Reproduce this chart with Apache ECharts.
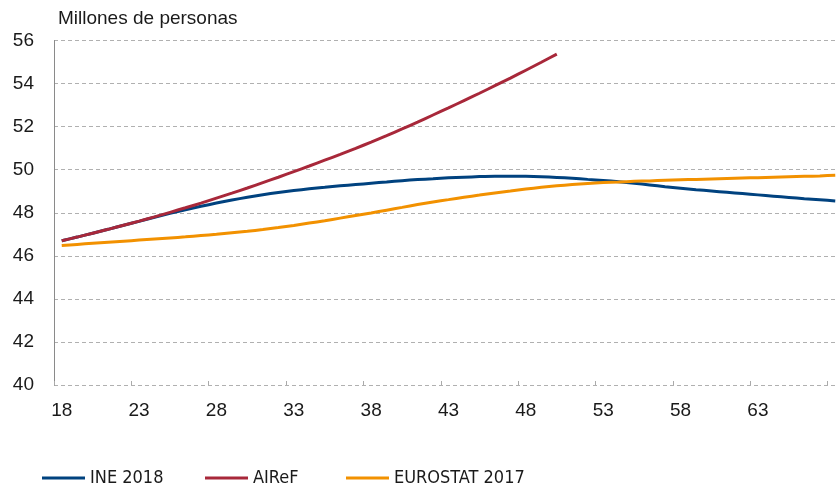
<!DOCTYPE html>
<html>
<head>
<meta charset="utf-8">
<script src="https://cdn.jsdelivr.net/npm/echarts@6/dist/echarts.min.js"></script>
<style>
  html, body { margin: 0; padding: 0; background: #fff; }
  #chart { width: 836px; height: 485px; }
</style>
</head>
<body>
<div id="chart"></div>
<script>
// Years 2018–2068, labelled by their last two digits
const years = [];
for (let y = 18; y <= 68; y++) years.push(String(y));

// Population projections, millions of people
const ine2018 = [
  46.70, 46.87, 47.05, 47.23, 47.42, 47.60, 47.79, 47.97, 48.14, 48.30,
  48.45, 48.59, 48.72, 48.84, 48.94, 49.03, 49.11, 49.18, 49.25, 49.31,
  49.37, 49.43, 49.49, 49.54, 49.58, 49.62, 49.65, 49.68, 49.70, 49.70,
  49.69, 49.67, 49.64, 49.60, 49.55, 49.50, 49.44, 49.37, 49.29, 49.21,
  49.14, 49.07, 49.01, 48.95, 48.89, 48.83, 48.77, 48.71, 48.65, 48.60,
  48.55
];
const airef = [
  46.70, 46.87, 47.05, 47.23, 47.42, 47.61, 47.81, 48.02, 48.23, 48.45,
  48.68, 48.91, 49.15, 49.40, 49.65, 49.91, 50.17, 50.44, 50.71, 50.99,
  51.28, 51.58, 51.89, 52.21, 52.54, 52.87, 53.21, 53.55, 53.90, 54.25,
  54.62, 54.99, 55.37
];
const eurostat2017 = [
  46.48, 46.53, 46.58, 46.63, 46.68, 46.73, 46.78, 46.83, 46.88, 46.94,
  47.00, 47.07, 47.14, 47.22, 47.31, 47.41, 47.52, 47.63, 47.75, 47.87,
  47.99, 48.12, 48.25, 48.38, 48.50, 48.61, 48.72, 48.82, 48.92, 49.01,
  49.10, 49.18, 49.25, 49.31, 49.36, 49.40, 49.43, 49.46, 49.48, 49.51,
  49.53, 49.55, 49.57, 49.59, 49.61, 49.63, 49.65, 49.67, 49.69, 49.71,
  49.74
];

const seriesNames = ['INE 2018', 'AIReF', 'EUROSTAT 2017'];
const seriesColors = ['#00427f', '#a8283a', '#f29100'];
const seriesData = [ine2018, airef, eurostat2017];

const textColor = '#1a1a1a';
const labelFont = '"Liberation Sans", Arial, sans-serif';
const legendFont = '"Liberation Sans Narrow", "DejaVu Sans Condensed", "Liberation Sans", sans-serif';

const legendLeft = [42, 205, 346];

const chart = echarts.init(document.getElementById('chart'), null, { renderer: 'canvas' });

chart.setOption({
  animation: false,
  backgroundColor: '#ffffff',
  title: {
    text: 'Millones de personas',
    left: 58,
    top: 9,
    padding: 0,
    textStyle: {
      fontFamily: labelFont,
      fontSize: 19,
      fontWeight: 'normal',
      color: textColor
    }
  },
  legend: seriesNames.map((name, i) => ({
    data: [name],
    left: legendLeft[i],
    top: 469,
    padding: 0,
    icon: 'rect',
    itemWidth: 43,
    itemHeight: 3,
    itemGap: 0,
    selectedMode: false,
    textStyle: {
      fontFamily: legendFont,
      fontSize: 18,
      color: textColor,
      padding: [0, 0, 0, 0]
    }
  })),
  grid: {
    left: 54,
    width: 789,
    top: 40.5,
    bottom: 100,
    containLabel: false,
    outerBoundsMode: 'none'
  },
  xAxis: {
    type: 'category',
    data: years,
    boundaryGap: true,
    axisLine: { show: false },
    axisTick: {
      show: true,
      inside: true,
      length: 4,
      interval: 4,
      lineStyle: { color: '#aaaaaa', width: 1 }
    },
    axisLabel: {
      // every fifth year, the last one falls outside the visible area
      interval: (idx) => idx % 5 === 0 && idx < years.length - 1,
      margin: 16,
      fontFamily: labelFont,
      fontSize: 19,
      color: textColor
    },
    splitLine: { show: false }
  },
  yAxis: {
    type: 'value',
    min: 40,
    max: 56,
    interval: 2,
    axisLine: { show: true, lineStyle: { color: '#8a8a8a', width: 1 } },
    axisTick: { show: false },
    axisLabel: {
      margin: 20,
      fontFamily: labelFont,
      fontSize: 19,
      color: textColor
    },
    splitLine: {
      show: true,
      lineStyle: { color: '#b0b0b0', width: 1, type: [4, 3] }
    }
  },
  series: seriesNames.map((name, i) => ({
    name: name,
    type: 'line',
    data: seriesData[i],
    smooth: 0.15,
    showSymbol: false,
    symbol: 'none',
    lineStyle: { color: seriesColors[i], width: 3 },
    itemStyle: { color: seriesColors[i] },
    z: i === 1 ? 4 : 3
  }))
});
</script>
</body>
</html>
